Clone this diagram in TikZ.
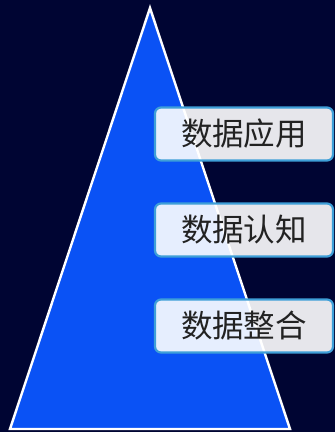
\documentclass[tikz,border=0pt]{standalone}
\usepackage{fontspec}
\newfontfamily\cjk{Noto Sans CJK SC}
\definecolor{bg}{HTML}{000533}
\definecolor{tri}{HTML}{0A52F5}
\definecolor{edge}{HTML}{3E9FD8}
\definecolor{txt}{HTML}{222222}
\begin{document}
\begin{tikzpicture}[x=1pt,y=-1pt,
  label box/.style={draw=edge,line width=2.2pt,rounded corners=6pt,fill=white,fill opacity=0.9,text opacity=1,
    minimum width=178pt,minimum height=53pt,inner sep=0pt,text=txt,font=\cjk\fontsize{31.5}{32}\selectfont}]
\fill[bg] (0,0) rectangle (335,432);
\useasboundingbox (0,0) rectangle (335,432);
\coordinate (apex) at (150,8);
\coordinate (bl) at (10,429);
\coordinate (br) at (290,429);
\draw[white,line width=2.4pt,fill=tri,line join=miter] (apex) -- (bl) -- (br) -- cycle;
\node[label box] (app) at (244,134) {数据应用};
\node[label box] (cog) at (244,230) {数据认知};
\node[label box] (int) at (244,326) {数据整合};
\end{tikzpicture}
\end{document}
